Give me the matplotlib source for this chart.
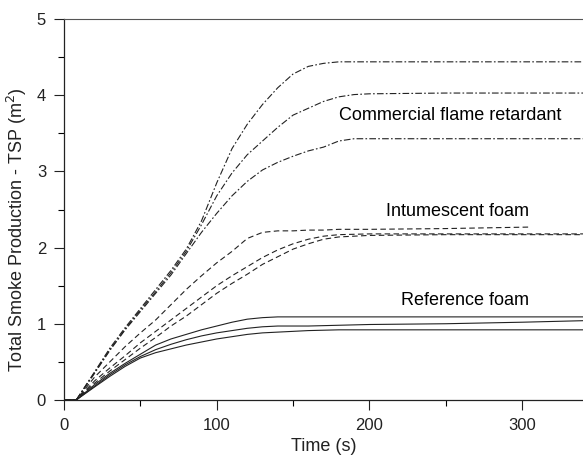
import matplotlib
matplotlib.use('Agg')
from matplotlib import pyplot as plt
from matplotlib.ticker import MultipleLocator

plt.rcParams['font.family'] = ['Liberation Sans', 'DejaVu Sans']

# commercial flame retardant (dash-dot)
t_fr = [0, 8, 20, 30, 40, 50, 60, 70, 80, 90, 100, 110, 120, 130, 140, 150, 160, 170, 180, 190, 200, 250, 300, 340]
fr_a = [0, 0, 0.37, 0.68, 0.95, 1.2, 1.45, 1.7, 1.98, 2.35, 2.85, 3.3, 3.62, 3.88, 4.1, 4.28, 4.38, 4.42, 4.44, 4.44, 4.44, 4.44, 4.44, 4.44]
fr_b = [0, 0, 0.36, 0.66, 0.93, 1.18, 1.42, 1.67, 1.95, 2.3, 2.68, 2.98, 3.22, 3.4, 3.58, 3.74, 3.83, 3.92, 3.98, 4.01, 4.02, 4.03, 4.03, 4.03]
fr_c = [0, 0, 0.35, 0.65, 0.92, 1.16, 1.4, 1.64, 1.92, 2.2, 2.45, 2.68, 2.87, 3.02, 3.12, 3.2, 3.27, 3.32, 3.4, 3.43, 3.43, 3.43, 3.43, 3.43]

# intumescent foam (dashed)
t_if = [0, 8, 20, 30, 40, 50, 60, 70, 80, 90, 100, 110, 120, 130, 140, 150, 160, 170, 180, 200, 250, 306]
if_a = [0, 0, 0.3, 0.5, 0.7, 0.88, 1.05, 1.25, 1.45, 1.63, 1.8, 1.95, 2.12, 2.2, 2.22, 2.22, 2.23, 2.23, 2.24, 2.24, 2.25, 2.27]
t_if2 = [0, 8, 20, 30, 40, 50, 60, 70, 80, 90, 100, 110, 120, 130, 140, 150, 160, 170, 180, 200, 250, 300, 340]
if_b = [0, 0, 0.25, 0.42, 0.58, 0.75, 0.9, 1.05, 1.2, 1.35, 1.5, 1.63, 1.75, 1.87, 1.97, 2.05, 2.11, 2.15, 2.17, 2.18, 2.18, 2.18, 2.18]
if_c = [0, 0, 0.22, 0.38, 0.53, 0.68, 0.82, 0.97, 1.1, 1.25, 1.4, 1.53, 1.65, 1.78, 1.88, 1.98, 2.05, 2.11, 2.14, 2.16, 2.17, 2.17, 2.17]

# reference foam (solid)
t_rf = [0, 8, 20, 30, 40, 50, 60, 70, 80, 90, 100, 110, 120, 130, 140, 150, 160, 180, 200, 250, 300, 340]
rf_a = [0, 0, 0.2, 0.35, 0.48, 0.6, 0.72, 0.8, 0.86, 0.92, 0.97, 1.02, 1.06, 1.08, 1.09, 1.09, 1.09, 1.09, 1.09, 1.09, 1.09, 1.09]
rf_b = [0, 0, 0.18, 0.33, 0.46, 0.57, 0.66, 0.73, 0.79, 0.84, 0.88, 0.91, 0.94, 0.96, 0.97, 0.97, 0.97, 0.98, 0.99, 1.0, 1.02, 1.04]
rf_c = [0, 0, 0.17, 0.31, 0.44, 0.55, 0.62, 0.67, 0.72, 0.76, 0.8, 0.83, 0.86, 0.88, 0.89, 0.9, 0.91, 0.92, 0.92, 0.92, 0.92, 0.92]

fig = plt.figure(figsize=(5.83, 4.57), dpi=100)
ax = fig.add_axes([0.11, 0.125, 0.89, 0.833])

dashdot = (0, (6, 2, 1.5, 2))
dashed = (0, (5, 3))
lw = 0.8
for y in (fr_a, fr_b, fr_c):
    ax.plot(t_fr, y, color='#222222', lw=lw, linestyle=dashdot)
ax.plot(t_if, if_a, color='#222222', lw=lw, linestyle=dashed)
for y in (if_b, if_c):
    ax.plot(t_if2, y, color='#222222', lw=lw, linestyle=dashed)
for y in (rf_a, rf_b, rf_c):
    ax.plot(t_rf, y, color='#222222', lw=lw, linestyle='-')

ax.text(253, 3.74, 'Commercial flame retardant', ha='center', va='center', fontsize=13)
ax.text(258, 2.47, 'Intumescent foam', ha='center', va='center', fontsize=13)
ax.text(263, 1.30, 'Reference foam', ha='center', va='center', fontsize=13)

ax.set_xlim(0, 340)
ax.set_ylim(0, 5)
ax.xaxis.set_major_locator(MultipleLocator(100))
ax.xaxis.set_minor_locator(MultipleLocator(50))
ax.yaxis.set_major_locator(MultipleLocator(1))
ax.yaxis.set_minor_locator(MultipleLocator(0.5))
ax.tick_params(which='major', direction='out', length=7, width=0.8, labelsize=12, colors='#222222', pad=6)
ax.tick_params(which='minor', direction='out', length=4, width=0.8)
ax.spines['right'].set_visible(False)
ax.spines['top'].set_color('#555555')
for s in ('left', 'bottom'):
    ax.spines[s].set_color('#222222')
    ax.spines[s].set_linewidth(0.9)

ax.set_xlabel('Time (s)', fontsize=13, color='#222222', labelpad=4)
ax.set_ylabel('Total Smoke Production - TSP (m$^2$)', fontsize=13, color='#222222')
ax.yaxis.set_label_coords(-0.067, 0.446)

plt.savefig('out.png', dpi=100)
